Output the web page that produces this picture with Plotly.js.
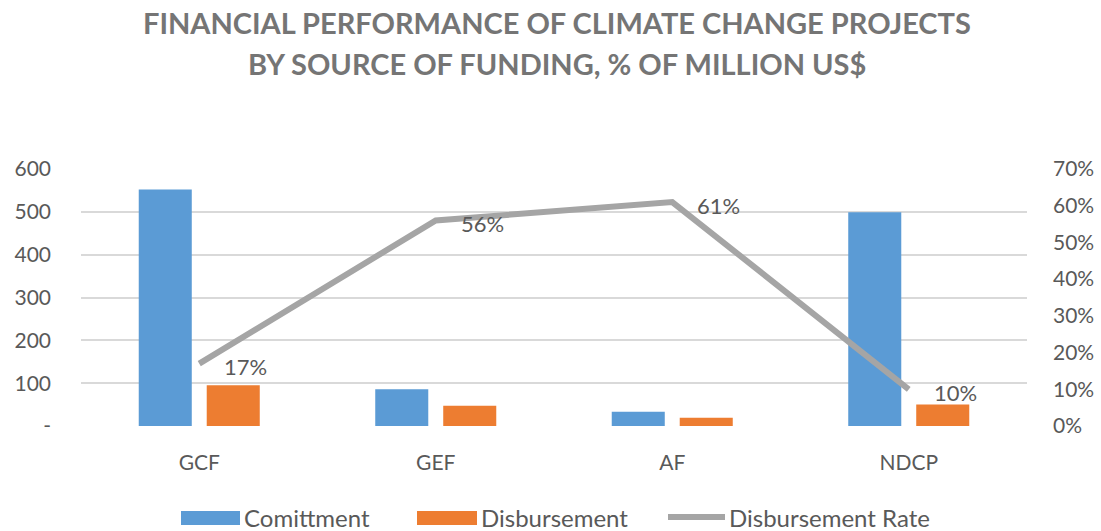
<!DOCTYPE html>
<html>
<head>
<meta charset="utf-8">
<script src="https://cdn.plot.ly/plotly-3.0.1.min.js"></script>
<style>html,body{margin:0;padding:0;background:#fff;}#chart{width:1101px;height:531px;}</style>
</head>
<body>
<div id="chart"></div>
<script>
const categories = ["GCF", "GEF", "AF", "NDCP"];
const commitment = [552, 86, 33, 499];
const disbursement = [95, 47, 19, 50];
const disbursementRate = [0.17, 0.56, 0.61, 0.10];
const rateLabels = ["17%", "56%", "61%", "10%"];
const leftTickVals = [0, 100, 200, 300, 400, 500, 600];
const leftTickText = ["-", "100", "200", "300", "400", "500", "600"];
const rightTickVals = [0, 0.1, 0.2, 0.3, 0.4, 0.5, 0.6, 0.7];
const rightTickText = ["0%", "10%", "20%", "30%", "40%", "50%", "60%", "70%"];
const seriesNames = ["Comittment", "Disbursement", "Disbursement Rate"];
const titleLines = ["FINANCIAL PERFORMANCE OF CLIMATE CHANGE PROJECTS", "BY SOURCE OF FUNDING, % OF MILLION US$"];

const FONT = "Lato, 'Open Sans', sans-serif";
const TXT = "#595959";
const BLUE = "#5B9BD5", ORANGE = "#ED7D31", GREY = "#A5A5A5";

const traces = [
  {type: "bar", name: seriesNames[0], x: categories, y: commitment, marker: {color: BLUE}},
  {type: "bar", name: seriesNames[1], x: categories, y: disbursement, marker: {color: ORANGE}},
  {type: "scatter", mode: "lines", name: seriesNames[2], x: categories, y: disbursementRate,
   yaxis: "y2", line: {color: GREY, width: 6}}
];

// plot area in pixels: x 81..1027, y 169..426
const px = v => (v - 81) / 946;
const py = v => (426 - v) / 257;

const annotations = [];
// title
titleLines.forEach((t, i) => annotations.push({
  text: "<b>" + t + "</b>", xref: "paper", yref: "paper", x: px(557), y: py(i === 0 ? 22 : 64),
  xanchor: "center", yanchor: "middle", showarrow: false,
  font: {family: FONT, size: 29, color: "#757575"}
}));
// data labels for the rate line
categories.forEach((c, i) => annotations.push({
  text: rateLabels[i], x: c, y: disbursementRate[i], xref: "x", yref: "y2",
  xanchor: "left", yanchor: "middle", xshift: 23, yshift: -3, showarrow: false,
  font: {family: FONT, size: 22, color: TXT}
}));
// custom legend
const legendItems = [
  {name: seriesNames[0], color: BLUE, kind: "rect", x0: 181, x1: 240, tx: 242},
  {name: seriesNames[1], color: ORANGE, kind: "rect", x0: 417, x1: 477, tx: 479},
  {name: seriesNames[2], color: GREY, kind: "line", x0: 668, x1: 725, tx: 727}
];
const shapes = [];
legendItems.forEach(it => {
  if (it.kind === "rect") {
    shapes.push({type: "rect", xref: "paper", yref: "paper", x0: px(it.x0), x1: px(it.x1),
      y0: py(525), y1: py(511), fillcolor: it.color, line: {width: 0}});
  } else {
    shapes.push({type: "line", xref: "paper", yref: "paper", x0: px(it.x0), x1: px(it.x1),
      y0: py(517), y1: py(517), line: {color: it.color, width: 6}});
  }
  annotations.push({text: it.name, xref: "paper", yref: "paper", x: px(it.tx), y: py(517),
    xanchor: "left", yanchor: "middle", showarrow: false,
    font: {family: FONT, size: 24, color: TXT}});
});

const layout = {
  width: 1101, height: 531,
  margin: {l: 81, r: 74, t: 169, b: 105},
  paper_bgcolor: "#fff", plot_bgcolor: "#fff",
  font: {family: FONT, size: 21, color: TXT},
  showlegend: false,
  barmode: "group", bargap: 0.425, bargroupgap: 0.22,
  xaxis: {type: "category", showgrid: false, zeroline: false, showline: false, ticks: "",
          tickfont: {family: FONT, size: 21, color: TXT}, ticklabelstandoff: 22},
  yaxis: {range: [0, 600], tickvals: leftTickVals, ticktext: leftTickText, showgrid: true,
          gridcolor: "#D9D9D9", gridwidth: 2, zeroline: false, showline: false, ticks: "",
          tickfont: {family: FONT, size: 21, color: TXT}, ticklabelstandoff: 29},
  yaxis2: {range: [0, 0.7], tickvals: rightTickVals, ticktext: rightTickText, overlaying: "y", side: "right",
           showgrid: false, zeroline: false, showline: false, ticks: "",
           tickfont: {family: FONT, size: 21, color: TXT}, ticklabelstandoff: 25},
  annotations: annotations,
  shapes: shapes
};
Plotly.newPlot("chart", traces, layout, {displayModeBar: false, staticPlot: true});
</script>
</body>
</html>
